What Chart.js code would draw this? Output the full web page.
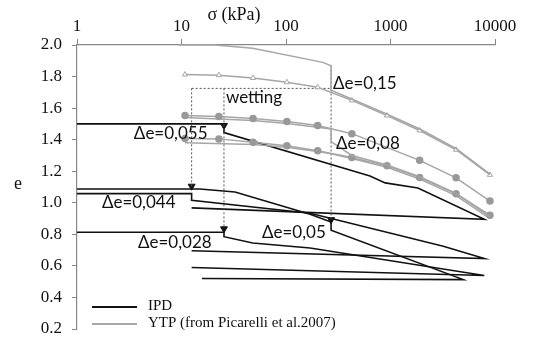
<!DOCTYPE html>
<html>
<head>
<meta charset="utf-8">
<script src="https://cdn.jsdelivr.net/npm/chart.js@4/dist/chart.umd.min.js"></script>
<style>
  html, body { margin: 0; padding: 0; background: #fff; }
  #wrap { width: 546px; height: 337px; }
</style>
</head>
<body>
<div id="wrap"><canvas id="chart"></canvas></div>
<script>
// axis ticks
const sigmaTicks = [1, 10, 100, 1000, 10000];
const eMin = 0.2, eMax = 2.0, eStep = 0.2;

// IPD curves (loading, wetting step, unloading)
const ipdA_s = [1, 25.5, 25.5, 636, 890, 1830, 7900, 12.5];
const ipdA_e = [1.50, 1.50, 1.445, 1.17, 1.126, 1.094, 0.896, 0.968];
const ipdB_s = [1, 15, 32.5, 170, 270, 270, 4970, 15.7];
const ipdB_e = [1.087, 1.087, 1.068, 0.928, 0.878, 0.826, 0.513, 0.52];
const ipdC_s = [1, 12.5, 12.5, 170, 3200, 7900, 12.5];
const ipdC_e = [1.058, 1.058, 1.016, 0.934, 0.724, 0.647, 0.696];
const ipdD_s = [1, 25.5, 25.5, 48, 170, 7900, 12.5];
const ipdD_e = [0.813, 0.813, 0.785, 0.745, 0.713, 0.539, 0.59];

// YTP curves (Picarelli et al. 2007)
const ytpTop_s = [9.3, 21, 48, 225, 270, 270, 430, 930, 1930, 4300, 9000];
const ytpTop_e = [2.0, 2.0, 1.98, 1.89, 1.868, 1.713, 1.656, 1.562, 1.466, 1.342, 1.18];
const ytpTri_s = [10.8, 22.8, 48.4, 102, 201, 427, 926, 1900, 4240, 8950];
const ytpTri_e = [1.813, 1.809, 1.791, 1.764, 1.732, 1.649, 1.553, 1.458, 1.336, 1.177];
const ytpC1_s = [10.8, 22.8, 48.4, 102, 201, 427, 1900, 4240, 8950];
const ytpC1_e = [1.553, 1.547, 1.534, 1.515, 1.49, 1.438, 1.269, 1.158, 1.011];
const ytpWet_s = [10.8, 48.4, 102, 201, 270, 270, 427, 926, 1900, 4240, 8950];
const ytpWet_e = [1.54, 1.522, 1.503, 1.478, 1.468, 1.388, 1.30, 1.24, 1.165, 1.06, 0.91];
const ytpC2_s = [10.8, 22.8, 48.4, 102, 201, 427, 926, 1900, 4240, 8950];
const ytpC2_e = [1.407, 1.405, 1.383, 1.362, 1.330, 1.287, 1.234, 1.160, 1.057, 0.921];
const ytpLow_s = [10.8, 48.4, 102, 201, 270, 427, 926, 1900, 4240, 8950];
const ytpLow_e = [1.38, 1.37, 1.352, 1.325, 1.31, 1.28, 1.225, 1.15, 1.045, 0.90];

// wetting guides
const wetH_s = [12.5, 270], wetH_e = [1.725, 1.725];
const wetV1_s = [12.5, 12.5], wetV1_e = [1.725, 1.10];
const wetV2_s = [25.5, 25.5], wetV2_e = [1.725, 0.835];
const wetV3_s = [270, 270], wetV3_e = [1.87, 0.895];
const arrow_s = [12.5, 25.5, 25.5, 270];
const arrow_e = [1.105, 1.49, 0.835, 0.893];

// annotation labels
const noteText = ['\u0394e=0,15', 'wetting', '\u0394e=0,055', '\u0394e=0,08', '\u0394e=0,044', '\u0394e=0,028', '\u0394e=0,05'];
const noteS = [281, 26.6, 3.5, 301, 1.73, 3.83, 58.9];
const noteE = [1.757, 1.668, 1.438, 1.375, 1.0, 0.749, 0.813];

function pts(s, e) { return s.map((v, i) => ({ x: v, y: e[i] })); }

const BLACK = '#111';
const GREY = '#a6a6a6';

function ipd(s, e) {
  return { data: pts(s, e), borderColor: BLACK, borderWidth: 1.6, pointRadius: 0, showLine: true, tension: 0 };
}
function ytp(s, e, style) {
  const d = { data: pts(s, e), borderColor: GREY, borderWidth: 1.5, showLine: true, tension: 0, pointRadius: 0 };
  if (style === 'tri') { d.pointStyle = 'triangle'; d.pointRadius = 3; d.pointBackgroundColor = '#fff'; d.pointBorderColor = GREY; d.pointBorderWidth = 1; }
  if (style === 'circ') { d.pointStyle = 'circle'; d.pointRadius = 3; d.pointBackgroundColor = '#999'; d.pointBorderColor = '#999'; }
  return d;
}
function dotted(s, e) {
  return { data: pts(s, e), borderColor: '#555', borderWidth: 1, borderDash: [2, 2], pointRadius: 0, showLine: true };
}

const overlay = {
  id: 'overlay',
  afterDraw(chart) {
    const ctx = chart.ctx, xs = chart.scales.x, ys = chart.scales.y;
    ctx.save();
    ctx.fillStyle = '#111';
    ctx.font = '17px Lato';
    ctx.textAlign = 'left';
    ctx.textBaseline = 'middle';
    noteText.forEach((t, i) => ctx.fillText(t, xs.getPixelForValue(noteS[i]), ys.getPixelForValue(noteE[i])));
    // axis titles
    ctx.font = '18px "Liberation Serif"';
    ctx.textAlign = 'center';
    ctx.fillText('\u03c3 (kPa)', 234, 15);
    ctx.fillText('e', 18, 184);
    // legend
    const lx = chart.chartArea.left + 15;
    ctx.lineWidth = 2;
    ctx.strokeStyle = BLACK;
    ctx.beginPath(); ctx.moveTo(lx, 307); ctx.lineTo(lx + 45, 307); ctx.stroke();
    ctx.strokeStyle = GREY;
    ctx.beginPath(); ctx.moveTo(lx, 324); ctx.lineTo(lx + 45, 324); ctx.stroke();
    ctx.font = '15px "Liberation Serif"';
    ctx.textAlign = 'left';
    ctx.fillText('IPD', lx + 56, 306);
    ctx.fillText('YTP (from Picarelli et al.2007)', lx + 56, 323);
    ctx.restore();
  }
};

new Chart(document.getElementById('chart'), {
  type: 'scatter',
  data: {
    datasets: [
      ytp(ytpTop_s, ytpTop_e),
      ytp(ytpTri_s, ytpTri_e, 'tri'),
      ytp(ytpC1_s, ytpC1_e, 'circ'),
      ytp(ytpWet_s, ytpWet_e),
      ytp(ytpC2_s, ytpC2_e, 'circ'),
      ytp(ytpLow_s, ytpLow_e),
      dotted(wetH_s, wetH_e),
      dotted(wetV1_s, wetV1_e),
      dotted(wetV2_s, wetV2_e),
      dotted(wetV3_s, wetV3_e),
      ipd(ipdA_s, ipdA_e),
      ipd(ipdB_s, ipdB_e),
      ipd(ipdC_s, ipdC_e),
      ipd(ipdD_s, ipdD_e),
      { data: pts(arrow_s, arrow_e), pointStyle: 'triangle', rotation: 180, pointRadius: 4,
        pointBackgroundColor: BLACK, pointBorderColor: BLACK, showLine: false }
    ]
  },
  options: {
    responsive: true,
    maintainAspectRatio: false,
    animation: false,
    clip: false,
    layout: { padding: { left: 30, right: 51, top: 20, bottom: 8 } },
    plugins: { legend: { display: false }, tooltip: { enabled: false } },
    scales: {
      x: {
        type: 'logarithmic',
        position: 'top',
        min: 1, max: 10000,
        afterBuildTicks: s => { s.ticks = sigmaTicks.map(v => ({ value: v })); },
        afterFit: s => { s.height = 25; },
        ticks: { callback: v => String(v), font: { family: 'Liberation Serif', size: 17 }, color: '#111', padding: 2, maxRotation: 0 },
        grid: { drawOnChartArea: false, drawTicks: true, tickLength: 6, color: '#888' },
        border: { color: '#888', width: 1.2 }
      },
      y: {
        min: eMin, max: eMax,
        afterFit: s => { s.width = 47; s.paddingTop = 0; s.paddingBottom = 0; },
        ticks: { stepSize: eStep, callback: v => v.toFixed(1), font: { family: 'Liberation Serif', size: 17 }, color: '#111', padding: 10 },
        grid: { drawOnChartArea: false, drawTicks: true, tickLength: 5, color: '#888' },
        border: { color: '#888', width: 1.2 }
      }
    }
  },
  plugins: [overlay]
});
</script>
</body>
</html>
